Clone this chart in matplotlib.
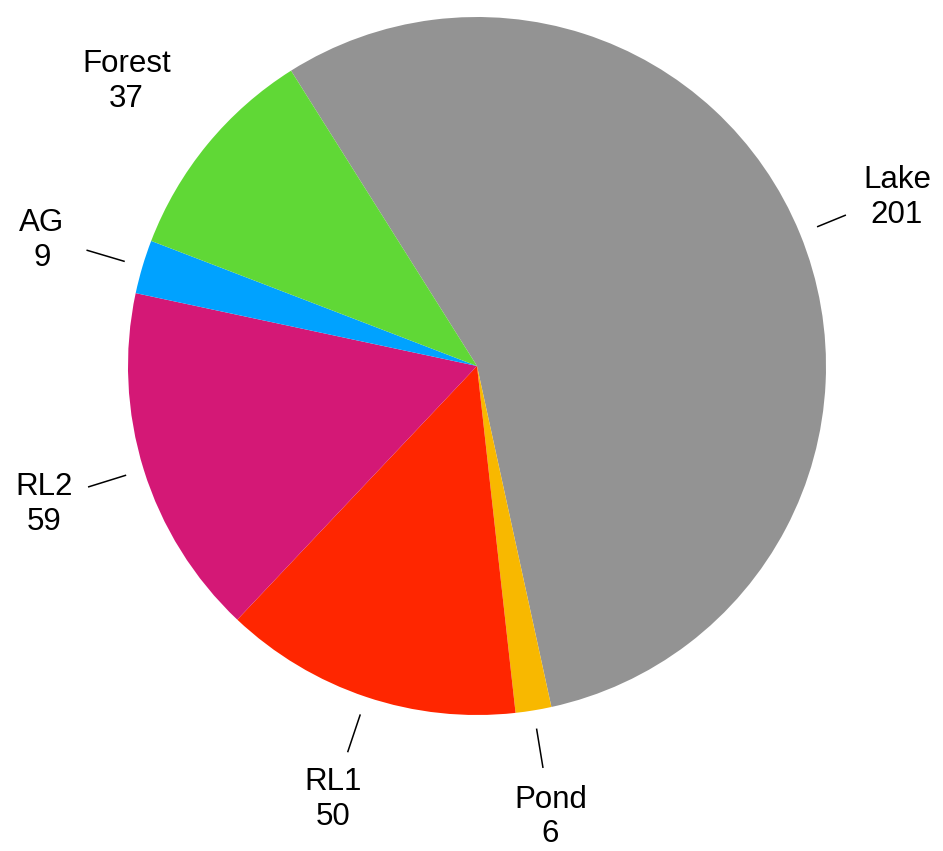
import matplotlib.pyplot as plt
import numpy as np

labels = ['Lake', 'Pond', 'RL1', 'RL2', 'AG', 'Forest']
values = [201, 6, 50, 59, 9, 37]
colors = ['#939393', '#F8B800', '#FF2600', '#D41876', '#00A2FF', '#60D836']
leaders = [True, True, True, True, True, False]

plt.rcParams['font.family'] = ['Liberation Sans', 'DejaVu Sans']

W, H = 943, 851
R = 349.0
cx, cy = 477, 366

fig = plt.figure(figsize=(W / 100, H / 100), dpi=100)
ax = fig.add_axes([0, 0, 1, 1])

start = 122.2
wedges, _ = ax.pie(values, colors=colors, startangle=start, counterclock=False,
                   radius=1.0, wedgeprops=dict(linewidth=0))

# pie() resets the limits, so set them afterwards
ax.set_xlim(-cx / R, (W - cx) / R)
ax.set_ylim(-(H - cy) / R, cy / R)
ax.set_aspect('equal')
ax.axis('off')

for w, lab, v, lead in zip(wedges, labels, values, leaders):
    mid = np.deg2rad((w.theta1 + w.theta2) / 2)
    c, s = np.cos(mid), np.sin(mid)
    if lead:
        r_out = 1.14 if lab == 'Lake' else 1.165
        ax.plot([1.055 * c, r_out * c], [1.055 * s, r_out * s], color='black', lw=1.1)
    ax.text(1.30 * c, 1.30 * s - 0.01, f'{lab}\n{v}', ha='center', va='center',
            fontsize=22.5, linespacing=1.2)

fig.savefig('out.png', dpi=100, facecolor='white')
